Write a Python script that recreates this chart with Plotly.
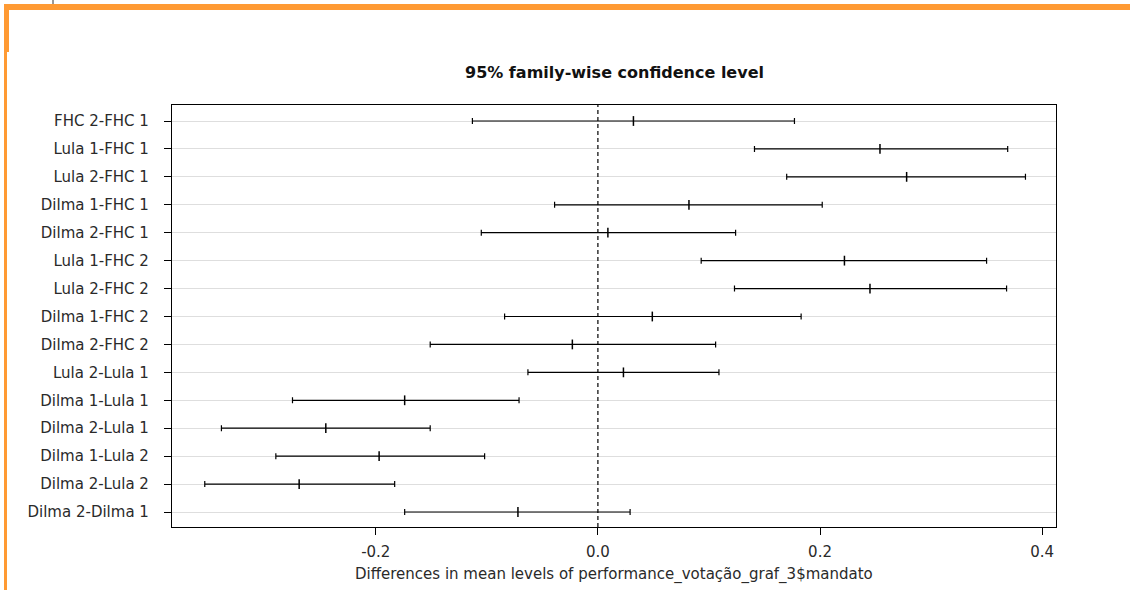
import plotly.graph_objects as go

# ---- data ----
comparisons = [
    "FHC 2-FHC 1", "Lula 1-FHC 1", "Lula 2-FHC 1", "Dilma 1-FHC 1", "Dilma 2-FHC 1",
    "Lula 1-FHC 2", "Lula 2-FHC 2", "Dilma 1-FHC 2", "Dilma 2-FHC 2", "Lula 2-Lula 1",
    "Dilma 1-Lula 1", "Dilma 2-Lula 1", "Dilma 1-Lula 2", "Dilma 2-Lula 2", "Dilma 2-Dilma 1",
]
diff = [0.032, 0.254, 0.278, 0.082, 0.009, 0.222, 0.245, 0.049, -0.023, 0.023,
        -0.174, -0.245, -0.197, -0.269, -0.072]
lwr = [-0.113, 0.141, 0.170, -0.039, -0.105, 0.093, 0.123, -0.084, -0.151, -0.063,
       -0.275, -0.339, -0.290, -0.354, -0.174]
upr = [0.177, 0.369, 0.385, 0.202, 0.124, 0.350, 0.368, 0.183, 0.106, 0.109,
       -0.071, -0.151, -0.102, -0.183, 0.029]
x_ticks = [-0.2, 0.0, 0.2, 0.4]
x_tick_labels = ["-0.2", "0.0", "0.2", "0.4"]

TITLE = "95% family-wise confidence level"
XTITLE = "Differences in mean levels of performance_votação_graf_3$mandato"

# ---- layout geometry (pixels) ----
W, H = 1130, 590
L, R, T, B = 172, 1056, 105, 527
PW, PH = R - L, B - T


def px(xp):
    return (xp - L) / PW


def py(yp):
    return (B - yp) / PH


FONT = "DejaVu Sans"
TXT = "#2a2a2a"
ORANGE = "#FF9A33"

fig = go.Figure()
fig.add_trace(go.Scatter(
    x=diff, y=comparisons, mode="markers",
    marker=dict(symbol="line-ns", size=7, line=dict(color="black", width=1.5), color="black"),
    error_x=dict(type="data", symmetric=False,
                 array=[u - d for u, d in zip(upr, diff)],
                 arrayminus=[d - l for d, l in zip(diff, lwr)],
                 color="black", thickness=1.2, width=3),
    showlegend=False, hoverinfo="skip",
))

n = len(comparisons)
top_off = 16 / 27.93
bot_off = 15 / 27.93

shapes = [
    # dashed zero line
    dict(type="line", xref="x", yref="paper", x0=0, x1=0, y0=0, y1=1,
         line=dict(color="black", width=1.2, dash="4px,3px"), layer="above"),
    # orange frame pieces
    dict(type="rect", xref="paper", yref="paper", x0=px(4), x1=px(W), y0=py(10), y1=py(4),
         fillcolor=ORANGE, line=dict(width=0)),
    dict(type="rect", xref="paper", yref="paper", x0=px(4), x1=px(9), y0=py(52), y1=py(4),
         fillcolor=ORANGE, line=dict(width=0)),
    dict(type="rect", xref="paper", yref="paper", x0=px(4), x1=px(7), y0=py(H), y1=py(52),
         fillcolor=ORANGE, line=dict(width=0)),
    dict(type="line", xref="paper", yref="paper", x0=px(53), x1=px(53), y0=py(4), y1=py(0),
         line=dict(color="#333", width=1)),
]

fig.update_layout(
    width=W, height=H,
    margin=dict(l=L, r=W - R, t=T, b=H - B, autoexpand=False),
    paper_bgcolor="white", plot_bgcolor="white",
    font=dict(family=FONT, color=TXT, size=14),
    shapes=shapes,
    annotations=[
        dict(text="<b>" + TITLE + "</b>", xref="paper", yref="paper", x=0.5, y=py(72),
             xanchor="center", yanchor="middle", showarrow=False,
             font=dict(family=FONT, size=16, color="#111")),
        dict(text=XTITLE, xref="paper", yref="paper", x=0.5, y=py(574),
             xanchor="center", yanchor="middle", showarrow=False,
             font=dict(family=FONT, size=15, color=TXT)),
    ],
    xaxis=dict(
        range=[-0.3835, 0.4125], tickvals=x_ticks, ticktext=x_tick_labels,
        showgrid=False, zeroline=False,
        showline=True, linecolor="black", linewidth=1.2, mirror=True,
        ticks="outside", ticklen=7, tickcolor="black", tickwidth=1.2,
        tickfont=dict(family=FONT, size=15, color=TXT), ticklabelstandoff=4,
        automargin=False,
    ),
    yaxis=dict(
        type="category", categoryorder="array", categoryarray=comparisons,
        range=[n - 1 + bot_off, -top_off],
        showgrid=True, gridcolor="#dedede", gridwidth=1,
        zeroline=False,
        showline=True, linecolor="black", linewidth=1.2, mirror=True,
        ticks="outside", ticklen=7, tickcolor="black", tickwidth=1.2,
        tickfont=dict(family=FONT, size=15, color=TXT), ticklabelstandoff=12,
        automargin=False,
    ),
)

fig.write_html("out.html")
